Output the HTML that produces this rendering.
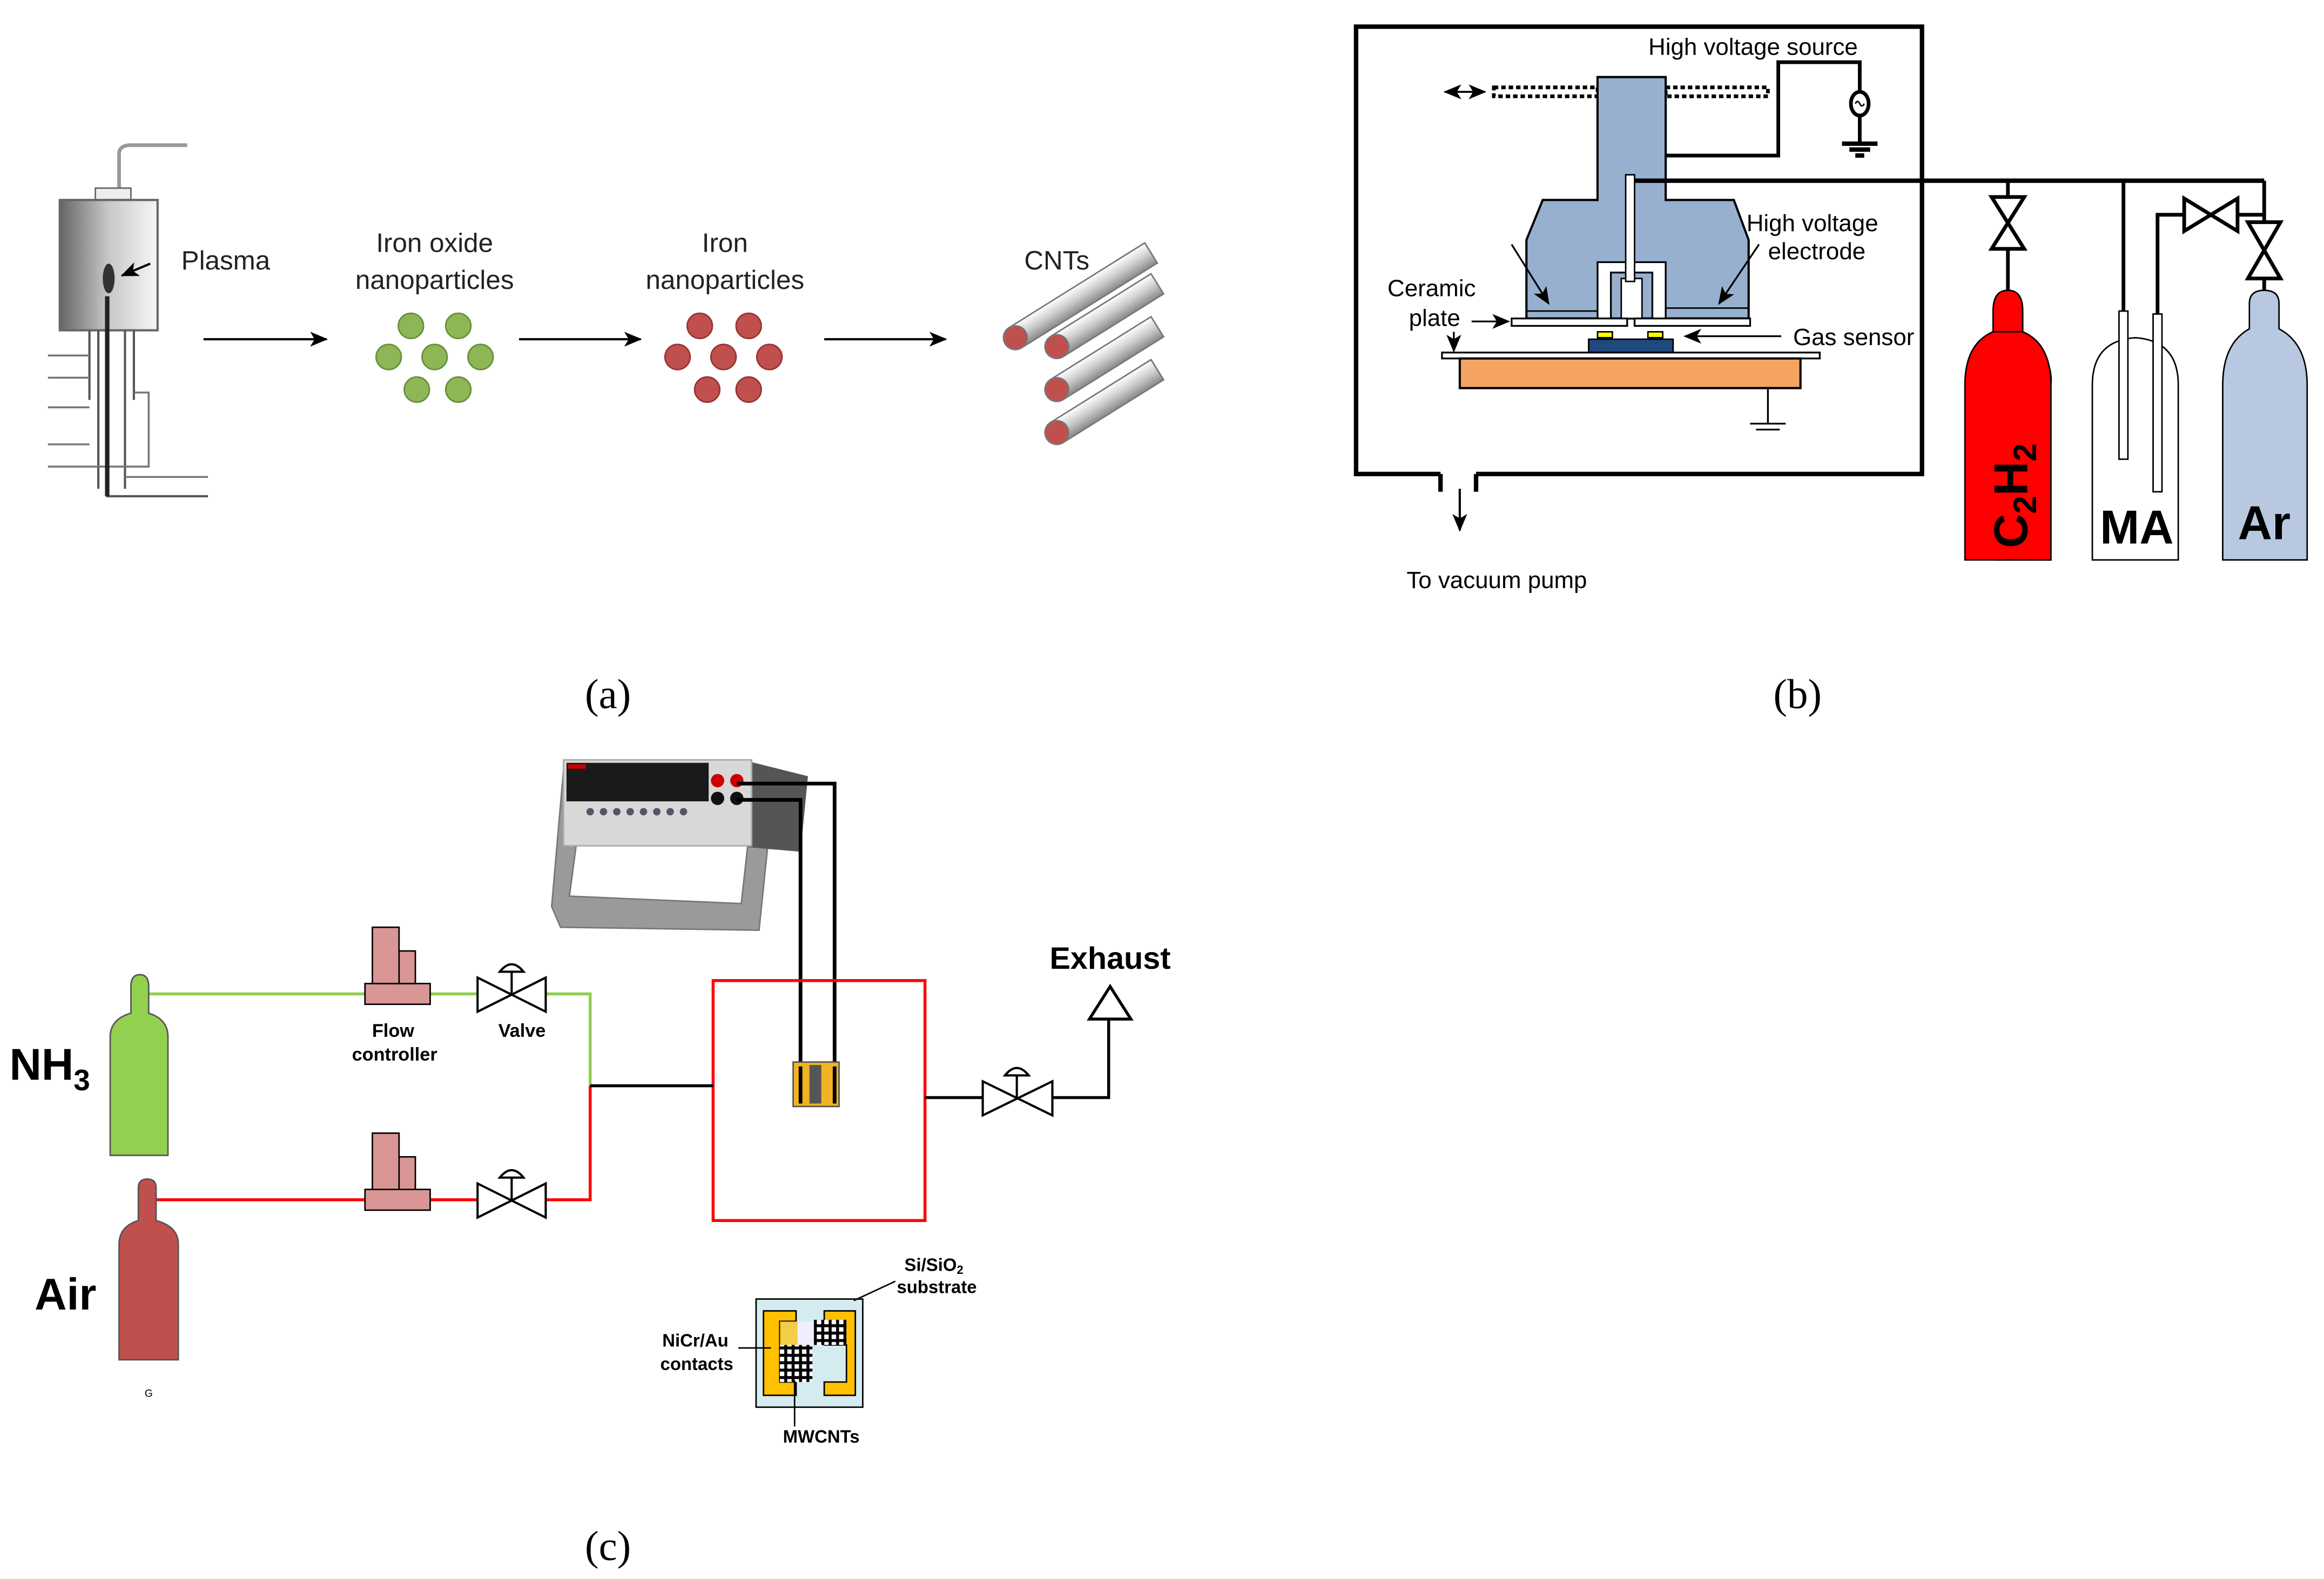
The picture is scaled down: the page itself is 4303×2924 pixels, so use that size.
<!DOCTYPE html>
<html><head><meta charset="utf-8">
<style>
html,body{margin:0;padding:0;background:#fff;}
svg{display:block;}
text{font-family:"Liberation Sans",sans-serif;}
</style></head>
<body>
<svg width="4303" height="2924" viewBox="0 0 1568 1066" xmlns="http://www.w3.org/2000/svg">
<defs>
<linearGradient id="cyl" x1="0" x2="1" y1="0" y2="0">
<stop offset="0" stop-color="#666"/><stop offset="0.5" stop-color="#c8c8c8"/><stop offset="1" stop-color="#f6f6f6"/>
</linearGradient>
<linearGradient id="rod" x1="0" x2="0" y1="0" y2="1">
<stop offset="0" stop-color="#fff"/><stop offset="0.5" stop-color="#ccc"/><stop offset="1" stop-color="#888"/>
</linearGradient>
<marker id="ah" markerWidth="12" markerHeight="10" refX="11" refY="5" orient="auto" markerUnits="userSpaceOnUse">
<path d="M0,0 L12,5 L0,10 L3,5Z" fill="#000"/></marker>
<pattern id="dots" width="5" height="5" patternUnits="userSpaceOnUse"><rect width="5" height="5" fill="#000"/><rect x="1" y="1" width="3" height="3" fill="#fff"/></pattern>
</defs>

<!-- ========== (a) ========== -->
<path d="M80,130 L80,104 Q80,98 88,98 L126,98" fill="none" stroke="#999" stroke-width="2.5"/>
<rect x="64" y="127" width="24" height="10" fill="#eee" stroke="#666"/>
<rect x="40" y="135" width="66" height="88" fill="url(#cyl)" stroke="#666" stroke-width="1.5"/>
<ellipse cx="73" cy="188" rx="4" ry="10" fill="#333"/>
<line x1="101" y1="178" x2="82" y2="186" stroke="#000" stroke-width="1.5" marker-end="url(#ah)"/>
<path d="M60,223 L60,270 M90,223 L90,270 M66,223 L66,330 M84,223 L84,330 M72,223 L72,335 L140,335" fill="none" stroke="#555" stroke-width="1.5"/>
<path d="M32,240 L60,240 M32,255 L60,255 M32,275 L60,275 M90,265 L100,265 L100,315 L32,315 M32,300 L60,300 M84,322 L140,322" fill="none" stroke="#777" stroke-width="1.3"/>
<line x1="72" y1="200" x2="72" y2="335" stroke="#222" stroke-width="3"/>
<text x="122" y="182" font-size="18" fill="#222">Plasma</text>
<line x1="137" y1="229" x2="220" y2="229" stroke="#000" stroke-width="1.5" marker-end="url(#ah)"/>
<line x1="350" y1="229" x2="432" y2="229" stroke="#000" stroke-width="1.5" marker-end="url(#ah)"/>
<line x1="556" y1="229" x2="638" y2="229" stroke="#000" stroke-width="1.5" marker-end="url(#ah)"/>
<text x="293" y="170" font-size="18" text-anchor="middle" fill="#222">Iron oxide</text>
<text x="293" y="195" font-size="18" text-anchor="middle" fill="#222">nanoparticles</text>
<text x="489" y="170" font-size="18" text-anchor="middle" fill="#222">Iron</text>
<text x="489" y="195" font-size="18" text-anchor="middle" fill="#222">nanoparticles</text>
<g fill="#8db654" stroke="#6a8e3c">
<circle cx="277" cy="220" r="8.5"/><circle cx="309" cy="220" r="8.5"/><circle cx="262" cy="241" r="8.5"/><circle cx="293" cy="241" r="8.5"/><circle cx="324" cy="241" r="8.5"/><circle cx="281" cy="263" r="8.5"/><circle cx="309" cy="263" r="8.5"/>
</g>
<g fill="#c0504d" stroke="#933">
<circle cx="472" cy="220" r="8.5"/><circle cx="505" cy="220" r="8.5"/><circle cx="457" cy="241" r="8.5"/><circle cx="488" cy="241" r="8.5"/><circle cx="519" cy="241" r="8.5"/><circle cx="477" cy="263" r="8.5"/><circle cx="505" cy="263" r="8.5"/>
</g>
<text x="713" y="182" font-size="18" text-anchor="middle" fill="#222">CNTs</text>
<g stroke="#777" stroke-width="1">
<g transform="translate(685,228) rotate(-32)"><rect x="0" y="-8" width="108" height="16" fill="url(#rod)"/><circle r="8" fill="#c0504d"/></g>
<g transform="translate(713,234) rotate(-32)"><rect x="0" y="-8" width="80" height="16" fill="url(#rod)"/><circle r="8" fill="#c0504d"/></g>
<g transform="translate(713,263) rotate(-32)"><rect x="0" y="-8" width="80" height="16" fill="url(#rod)"/><circle r="8" fill="#c0504d"/></g>
<g transform="translate(713,292) rotate(-32)"><rect x="0" y="-8" width="80" height="16" fill="url(#rod)"/><circle r="8" fill="#c0504d"/></g>
</g>
<text x="410" y="478" font-size="28" text-anchor="middle" style="font-family:'Liberation Serif',serif">(a)</text>

<!-- ========== (b) ========== -->
<path d="M972,320 L915,320 L915,18 L1297,18 L1297,320 L996,320" fill="none" stroke="#000" stroke-width="3"/>
<line x1="972" y1="320" x2="972" y2="332" stroke="#000" stroke-width="3"/>
<line x1="996" y1="320" x2="996" y2="332" stroke="#000" stroke-width="3"/>
<line x1="985" y1="330" x2="985" y2="358" stroke="#000" stroke-width="1.5" marker-end="url(#ah)"/>
<text x="1010" y="397" font-size="16" text-anchor="middle">To vacuum pump</text>
<rect x="1008" y="59" width="70" height="6" fill="#fff" stroke="#000" stroke-width="2.5" stroke-dasharray="3 2"/>
<rect x="1124" y="59" width="69" height="6" fill="#fff" stroke="#000" stroke-width="2.5" stroke-dasharray="3 2"/>
<line x1="975" y1="62" x2="1002" y2="62" stroke="#000" stroke-width="1.2" marker-end="url(#ah)"/>
<line x1="1000" y1="62" x2="975" y2="62" stroke="#000" stroke-width="1.2" marker-end="url(#ah)"/>
<path d="M1078,52 L1124,52 L1124,135 L1170,135 L1180,162 L1180,215 L1030,215 L1030,162 L1041,135 L1078,135Z" fill="#97b0d0" stroke="#000" stroke-width="1.5"/>
<path d="M1078,215 L1078,177 L1124,177 L1124,215 L1115,215 L1115,184 L1087,184 L1087,215Z" fill="#fff" stroke="#000" stroke-width="1.2"/>
<rect x="1094" y="188" width="14" height="27" fill="#fff" stroke="#000" stroke-width="1"/>
<rect x="1097" y="118" width="6" height="72" fill="#fff" stroke="#000" stroke-width="1"/>
<line x1="1030" y1="210" x2="1078" y2="210" stroke="#000"/><line x1="1124" y1="208" x2="1180" y2="208" stroke="#000"/>
<rect x="1020" y="215" width="78" height="5" fill="#fff" stroke="#000" stroke-width="1.2"/>
<rect x="1103" y="215" width="78" height="5" fill="#fff" stroke="#000" stroke-width="1.2"/>
<path d="M1124,105 L1200,105 L1200,42 L1255,42 L1255,63 M1255,77 L1255,96" fill="none" stroke="#000" stroke-width="2.5"/>
<ellipse cx="1255" cy="70" rx="6" ry="8" fill="#fff" stroke="#000" stroke-width="2.5"/>
<path d="M1252,70 q1.5,-3 3,0 q1.5,3 3,0" fill="none" stroke="#000" stroke-width="1"/>
<path d="M1243,97 L1267,97 M1248,101 L1262,101 M1252,105 L1258,105" stroke="#000" stroke-width="3"/>
<line x1="1103" y1="122" x2="1528" y2="122" stroke="#000" stroke-width="3"/>
<text x="1183" y="37" font-size="16" text-anchor="middle">High voltage source</text>
<text x="1223" y="156" font-size="16" text-anchor="middle">High voltage</text>
<text x="1226" y="175" font-size="16" text-anchor="middle">electrode</text>
<line x1="1187" y1="165" x2="1160" y2="205" stroke="#000" stroke-width="1.2" marker-end="url(#ah)"/>
<line x1="1020" y1="165" x2="1045" y2="205" stroke="#000" stroke-width="1.2" marker-end="url(#ah)"/>
<text x="966" y="200" font-size="16" text-anchor="middle">Ceramic</text>
<text x="968" y="220" font-size="16" text-anchor="middle">plate</text>
<line x1="993" y1="217" x2="1018" y2="217" stroke="#000" stroke-width="1.2" marker-end="url(#ah)"/>
<line x1="981" y1="224" x2="981" y2="237" stroke="#000" stroke-width="1.2" marker-end="url(#ah)"/>
<rect x="1078" y="224" width="10" height="4" fill="#ff0" stroke="#000"/><rect x="1112" y="224" width="10" height="4" fill="#ff0" stroke="#000"/>
<rect x="1072" y="229" width="57" height="9" fill="#1f497d" stroke="#000"/>
<rect x="973" y="238" width="255" height="4" fill="#fff" stroke="#000" stroke-width="1.2"/>
<rect x="985" y="242" width="230" height="20" fill="#f4a460" stroke="#000" stroke-width="1.5"/>
<path d="M1193,262 L1193,286 M1181,286 L1205,286 M1185,290 L1201,290" stroke="#000" stroke-width="1.2"/>
<line x1="1202" y1="227" x2="1137" y2="227" stroke="#000" stroke-width="1.2" marker-end="url(#ah)"/>
<text x="1210" y="233" font-size="16">Gas sensor</text>
<path d="M1355,122 L1355,133 M1355,168 L1355,198" stroke="#000" stroke-width="2.5" fill="none"/>
<path d="M1344,133 L1366,133 L1344,168 L1366,168Z" fill="#fff" stroke="#000" stroke-width="2.5"/>
<path d="M1433,122 L1433,310" stroke="#000" stroke-width="2.5"/>
<path d="M1456,310 L1456,145 L1474,145 M1510,145 L1528,145 L1528,122 M1528,122 L1528,150 M1528,188 L1528,200" stroke="#000" stroke-width="2.5" fill="none"/>
<path d="M1474,134 L1474,156 L1510,134 L1510,156Z" fill="#fff" stroke="#000" stroke-width="2.5"/>
<path d="M1517,150 L1539,150 L1517,188 L1539,188Z" fill="#fff" stroke="#000" stroke-width="2.5"/>
<path d="M1347,378 L1347,240 Q1347,230 1345,225 L1345,210 Q1345,196 1355,196 Q1365,196 1365,210 L1365,225 Q1386,240 1384,260 L1384,378Z" fill="#f00" stroke="#000"/>
<path d="M1326,378 L1326,260 Q1326,232 1345,224 L1365,224 Q1384,232 1384,260 L1384,378Z" fill="#f00" stroke="#000"/>
<path d="M1412,378 L1412,260 Q1412,230 1441,228 Q1470,230 1470,260 L1470,378Z" fill="#fff" stroke="#000"/>
<rect x="1430" y="210" width="6" height="100" fill="#fff" stroke="#000"/>
<rect x="1453" y="212" width="6" height="120" fill="#fff" stroke="#000"/>
<path d="M1500,378 L1500,260 Q1500,232 1518,222 L1518,205 Q1518,196 1528,196 Q1538,196 1538,205 L1538,222 Q1557,232 1557,260 L1557,378Z" fill="#b8c8e0" stroke="#000"/>
<text transform="translate(1368,370) rotate(-90)" font-size="32" font-weight="bold">C<tspan font-size="22" dy="6">2</tspan><tspan dy="-6">H</tspan><tspan font-size="22" dy="6">2</tspan></text>
<text x="1442" y="367" font-size="32" font-weight="bold" text-anchor="middle">MA</text>
<text x="1528" y="364" font-size="32" font-weight="bold" text-anchor="middle">Ar</text>
<text x="1213" y="478" font-size="28" text-anchor="middle" style="font-family:'Liberation Serif',serif">(b)</text>

<!-- ========== (c) ========== -->
<path d="M380,520 L372,612 L378,626 L512,628 L518,570 L505,565 L500,610 L384,605 L390,560Z" fill="#9a9a9a" stroke="#777"/>
<path d="M505,514 L545,524 L540,575 L505,572Z" fill="#555"/>
<rect x="380" y="513" width="127" height="58" fill="#d8d8d8" stroke="#aaa"/>
<rect x="382" y="515" width="96" height="26" fill="#1a1a1a"/>
<rect x="383" y="516" width="12" height="3" fill="#c00"/>
<g fill="#556">
<circle cx="398" cy="548" r="2.5"/><circle cx="407" cy="548" r="2.5"/><circle cx="416" cy="548" r="2.5"/><circle cx="425" cy="548" r="2.5"/><circle cx="434" cy="548" r="2.5"/><circle cx="443" cy="548" r="2.5"/><circle cx="452" cy="548" r="2.5"/><circle cx="461" cy="548" r="2.5"/>
</g>
<circle cx="484" cy="527" r="4.5" fill="#c00"/><circle cx="497" cy="527" r="4.5" fill="#c00"/>
<circle cx="484" cy="539" r="4.5" fill="#111"/><circle cx="497" cy="539" r="4.5" fill="#111"/>
<path d="M497,529 L563,529 L563,743 M497,540 L540,540 L540,743" fill="none" stroke="#000" stroke-width="2.5"/>
<rect x="481" y="662" width="143" height="162" fill="none" stroke="#f00" stroke-width="2"/>
<rect x="535" y="717" width="31" height="30" fill="#f0b323" stroke="#555"/>
<rect x="546" y="719" width="8" height="26" fill="#555"/>
<path d="M540,720 L540,745 M563,720 L563,745" stroke="#000" stroke-width="2.5"/>
<path d="M100,671 L250,671 M290,671 L322,671 M368,671 L398,671 L398,733" fill="none" stroke="#92d050" stroke-width="2"/>
<path d="M100,810 L250,810 M290,810 L322,810 M368,810 L398,810 L398,733" fill="none" stroke="#f00" stroke-width="2"/>
<line x1="398" y1="733" x2="481" y2="733" stroke="#000" stroke-width="2"/>
<g fill="#d99694" stroke="#000">
<rect x="246" y="664" width="44" height="14"/><rect x="251" y="626" width="18" height="38"/><rect x="269" y="642" width="11" height="22"/>
<rect x="246" y="803" width="44" height="14"/><rect x="251" y="765" width="18" height="38"/><rect x="269" y="781" width="11" height="22"/>
</g>
<g fill="#fff" stroke="#000" stroke-width="1.5">
<path d="M322,660 L322,683 L368,660 L368,683Z"/><line x1="345" y1="671" x2="345" y2="656"/><path d="M337,656 Q345,646 353,656Z"/>
<path d="M322,799 L322,822 L368,799 L368,822Z"/><line x1="345" y1="810" x2="345" y2="795"/><path d="M337,795 Q345,785 353,795Z"/>
<path d="M663,730 L663,753 L710,730 L710,753Z"/><line x1="686" y1="741" x2="686" y2="726"/><path d="M678,726 Q686,716 694,726Z"/>
</g>
<text x="265" y="700" font-size="12.5" font-weight="bold" text-anchor="middle">Flow</text>
<text x="266" y="716" font-size="12.5" font-weight="bold" text-anchor="middle">controller</text>
<text x="352" y="700" font-size="12.5" font-weight="bold" text-anchor="middle">Valve</text>
<path d="M624,741 L663,741 M710,741 L748,741 L748,688" fill="none" stroke="#000" stroke-width="2"/>
<path d="M735,688 L763,688 L749,666Z" fill="#fff" stroke="#000" stroke-width="2"/>
<text x="749" y="654" font-size="21" font-weight="bold" text-anchor="middle">Exhaust</text>
<path d="M74,780 L74,700 Q74,688 88,684 L88,666 Q88,658 94,658 Q100,658 100,666 L100,684 Q113,688 113,700 L113,780Z" fill="#92d050" stroke="#555"/>
<path d="M80,918 L80,840 Q80,828 93,824 L93,802 Q93,796 99,796 Q105,796 105,802 L105,824 Q120,828 120,840 L120,918Z" fill="#c0504d" stroke="#555"/>
<text x="6" y="729" font-size="30" font-weight="bold">NH<tspan font-size="20" dy="7">3</tspan></text>
<text x="23" y="884" font-size="30" font-weight="bold">Air</text>
<text x="100" y="943" font-size="7" text-anchor="middle">G</text>
<rect x="510" y="877" width="72" height="73" fill="#d4ecf0" stroke="#000"/>
<path d="M515,885 L537,885 L537,892 L526,892 L526,933 L537,933 L537,942 L515,942Z" fill="#ffc000" stroke="#000"/>
<path d="M556,885 L577,885 L577,942 L556,942 L556,933 L571,933 L571,908 L556,908Z" fill="#ffc000" stroke="#000"/>
<rect x="526" y="892" width="12" height="16" fill="#ffc000" opacity="0.7"/>
<rect x="538" y="892" width="11" height="16" fill="#eef"/>
<rect x="549" y="891" width="22" height="17" fill="url(#dots)"/>
<rect x="526" y="908" width="22" height="25" fill="url(#dots)"/>
<path d="M498,910 L520,910 M536,932 L536,963 M576,878 L604,865" stroke="#000" stroke-width="1"/>
<text x="469" y="909" font-size="12" font-weight="bold" text-anchor="middle">NiCr/Au</text>
<text x="470" y="925" font-size="12" font-weight="bold" text-anchor="middle">contacts</text>
<text x="554" y="974" font-size="12" font-weight="bold" text-anchor="middle">MWCNTs</text>
<text x="630" y="858" font-size="12" font-weight="bold" text-anchor="middle">Si/SiO<tspan font-size="8" dy="2">2</tspan></text>
<text x="632" y="873" font-size="12" font-weight="bold" text-anchor="middle">substrate</text>
<text x="410" y="1053" font-size="28" text-anchor="middle" style="font-family:'Liberation Serif',serif">(c)</text>
</svg>
</body></html>
